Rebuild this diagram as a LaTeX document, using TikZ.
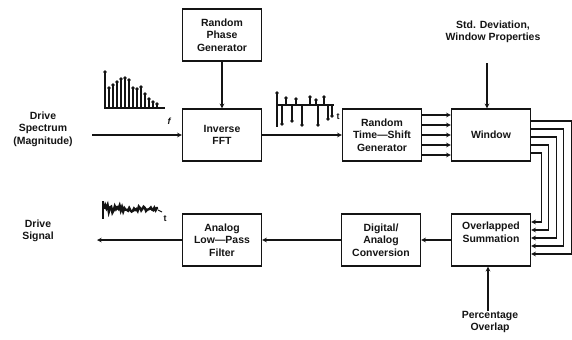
\documentclass[tikz,border=0pt]{standalone}
\usepackage{fontspec}
\setsansfont{Liberation Sans}
\usepackage{tikz}
\usetikzlibrary{positioning,calc}
\definecolor{ink}{HTML}{141414}
\tikzset{
  >=stealth,
  every node/.style={font=\sffamily\bfseries\fontsize{10.5}{12.5}\selectfont, text=ink},
  % --- nodes
  blk/.style   = {draw=ink, line width=1.4pt, align=center, inner sep=2pt,
                  minimum width=79bp, minimum height=52bp},
  lbl/.style   = {align=center},
  axlbl/.style = {font=\sffamily\bfseries\fontsize{9}{10}\selectfont, inner sep=0pt},
  % --- edges
  e/.style     = {-stealth, line width=1.1pt, draw=ink},
  stem/.style  = {line width=1.1pt, draw=ink},
}

\begin{document}
\begin{tikzpicture}[x=1bp, y=-1bp]
  \useasboundingbox (0,0) rectangle (572,339);

  % blocks
  \node[blk] (phase)  at (222,35)  {Random\\Phase\\Generator};
  \node[blk] (ifft)   at (222,135) {Inverse\\FFT};
  \node[blk] (shift)  at (382,135) {Random\\Time---Shift\\Generator};
  \node[blk] (window) at (491,135) {Window};
  \node[blk, text depth=16bp] (summ) at (491,240) {Overlapped\\Summation};
  \node[blk] (dac)    at (381,240) {Digital/\\Analog\\Conversion};
  \node[blk] (lpf)    at (222,240) {Analog\\Low---Pass\\Filter};

  % outside labels
  \node[lbl] (spec)  at (43,129)  {Drive\\Spectrum\\(Magnitude)};
  \node[lbl] (sig)   at (38,231)  {Drive\\Signal};
  \node[lbl] (stdev) at (493,32)  {Std. Deviation,\\Window Properties};
  \node[lbl] (pct)   at (490,322) {Percentage\\Overlap};

  \coordinate (specin) at (92,135);
  \coordinate (sigout) at (97,240);
  \coordinate (stdin)  at (487,63);
  \coordinate (pctin)  at (488,311);

  % connectors
  \draw[e] (specin) -- (ifft.west);
  \draw[e] (phase) -- (ifft);
  \draw[e] (ifft) -- (shift);
  \foreach \s in {-20,-10,0,10,20}
    \draw[e] ([yshift=\s bp]shift.east) -- ([yshift=\s bp]window.west);
  \draw[e] (stdin) -- (stdin |- window.north);
  \foreach \i in {0,...,4}{
    \pgfmathsetmacro\ya{14-8*\i}
    \pgfmathsetmacro\yb{8*\i-14}
    \pgfmathsetmacro\dx{40-7.5*\i}
    \draw[e] ([yshift=\ya bp]window.east) -- ++(\dx,0) |- ([yshift=\yb bp]summ.east);
  }
  \draw[e] (summ) -- (dac);
  \draw[e] (dac) -- (lpf);
  \draw[e] (lpf) -- (sigout);
  \draw[e] (pctin) -- (pctin |- summ.south);

  % spectrum sketch
  \draw[stem] (105,72) -- (105,108) -- (165,108);
  \foreach \x/\y in {105/72,109/88,113/85,117/82,121/79,125/78,129/80,133/88,
                     137/89,141/87,145/94,149/99,153/102,157/104}{
    \draw[stem] (\x,108) -- (\x,\y);
    \fill[ink] (\x,\y) circle (1.9);
  }
  \node[axlbl] (flab) at (169,121) {\itshape f};

  % time-shift sketch
  \draw[stem] (277,93) -- (277,127);
  \draw[stem] (277,105) -- (334,105);
  \foreach \x/\y in {277/93,286/98,296/99,310/97,316/100,324/97,
                     282/124,292/121,302/125,318/125,328/119,332/116}{
    \draw[stem] (\x,105) -- (\x,\y);
    \fill[ink] (\x,\y) circle (1.9);
  }
  \node[axlbl] (tlab) at (338,117) {t};

  % drive signal sketch
  \draw[line width=1.5pt, ink] (103,201) -- (103,219);
  \pgfmathsetseed{5}
  \draw[line width=2.4pt, ink] plot[domain=104:158, samples=46]
    (\x, {209 + 4.5*rand*(1-(\x-104)/80)});
  \draw[stem] (158,210) -- (162,212);
  \node[axlbl] (tlab2) at (165,219) {t};
\end{tikzpicture}
\end{document}
